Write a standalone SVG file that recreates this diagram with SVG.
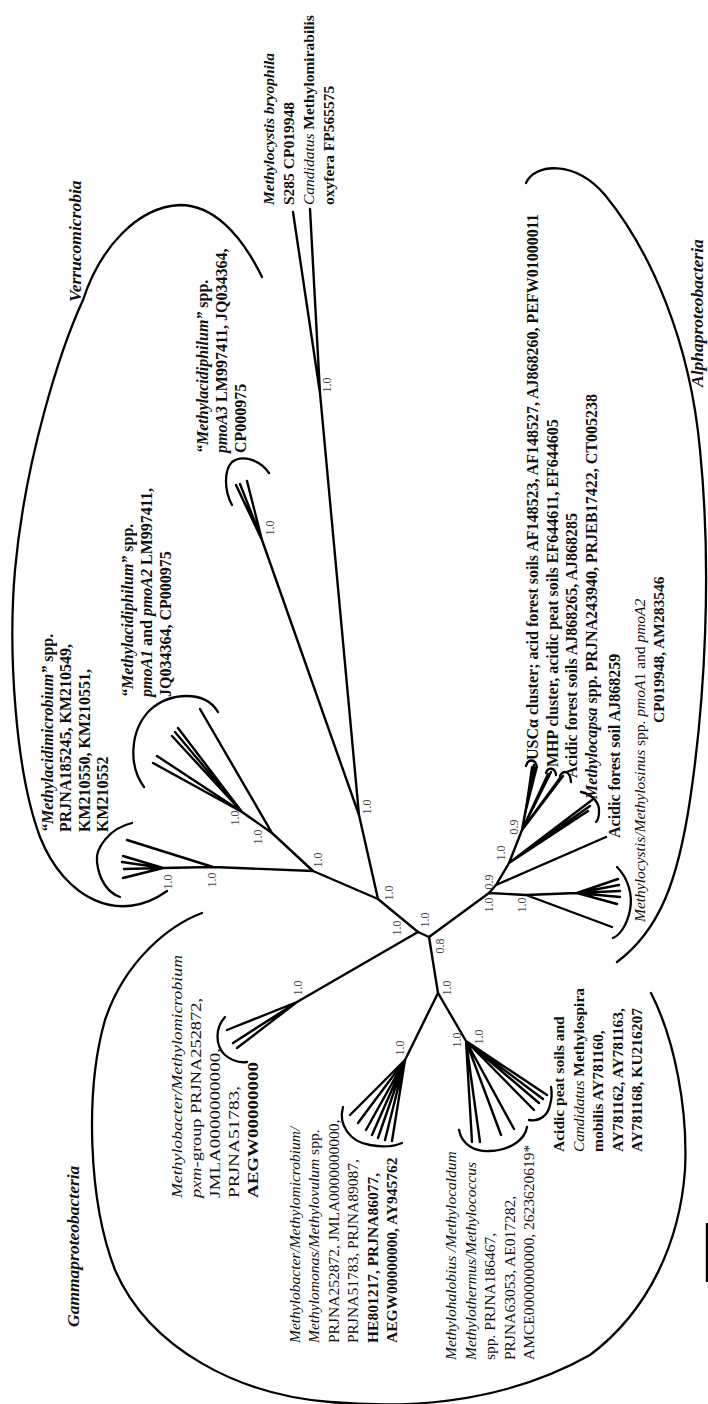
<svg xmlns="http://www.w3.org/2000/svg" width="708" height="1404" viewBox="0 0 708 1404">
<style>
text{font-family:"Liberation Serif","Times New Roman",serif;font-size:15.5px;fill:#111}
.big{font-size:16px}
.b{font-weight:bold}
.i{font-style:italic}
.bi{font-weight:bold;font-style:italic}
.bs{font-size:12px;fill:#444;text-anchor:middle}
.clade{font-size:17.5px;font-weight:bold;font-style:italic}
.edge{fill:none;stroke:#000;stroke-width:2.4;stroke-linecap:round;stroke-linejoin:round}
.arc{fill:none;stroke:#000;stroke-width:2.3;stroke-linecap:round}
</style>
<rect width="708" height="1404" fill="#fff"/>

<g id="connectors">
<path class="edge" d="M418,932 L378,899 L359,815 L320,393 L293,212 M320,393 L310,209 M359,815 L262,540 L236,485 M262,540 L240,484 M262,540 L247,481"/>
<path class="edge" d="M378,899 L313,871 L272,833 L200,709 M272,833 L242,812 L178,728 M242,812 L175,732 M242,812 L172,736 M242,812 L157,756 M242,812 L153,763"/>
<path class="edge" d="M313,871 L213,867 L127,840 M213,867 L163,868 L123,856 M163,868 L122,862 M163,868 L124,869 M163,868 L123,878"/>
<path class="edge" d="M418,932 L297,1002 L227,1030 M297,1002 L233,1043 M297,1002 L237,1048"/>
<path class="edge" d="M418,932 L429,937 L438,993 L405,1060 L350,1115 M405,1060 L358,1123 M405,1060 L366,1130 M405,1060 L372,1135 M405,1060 L378,1138 M405,1060 L385,1140 M405,1060 L392,1141"/>
<path class="edge" d="M438,993 L466,1041 L472,1142 M466,1041 L480,1142 M466,1041 L501,1135 M466,1041 L514,1129 M466,1041 L534,1110 M466,1041 L539,1103 M466,1041 L543,1099 M466,1041 L547,1095"/>
<path class="edge" d="M429,937 L489,893 L526,895 L577,893 L618,879 M577,893 L619,885 M577,893 L620,891 M577,893 L620,897 M577,893 L617,904 M526,895 L612,927"/>
<path class="edge" d="M489,893 L496,885 L606,837 M496,885 L509,863 L592,800 M509,863 L590,806 M509,863 L588,811 M509,863 L522,830 L534,765 M522,830 L551,772 M522,830 L548,774 M522,830 L563,776 M522,830 L560,778"/>
<polygon points="522,830 531,766 538,767" fill="#000"/>
<line x1="707" y1="1223" x2="707" y2="1282" stroke="#000" stroke-width="2.4"/>
</g>

<g id="clade-outlines">
<path class="arc" d="M262,277 C240,232 212,205 180,205 C137,207 100,248 83,300 C60,350 25,460 15,570 C8,650 15,770 40,837 C65,900 120,925 167,891"/>
<path class="arc" d="M202,913 C170,925 125,960 105,1020 C85,1090 88,1200 115,1270 C150,1350 240,1395 330,1402 C420,1410 510,1400 590,1355 C650,1310 680,1240 685,1170 C688,1110 675,1040 651,993"/>
<path class="arc" d="M526,183 C535,163 575,160 605,195 C650,250 690,340 700,450 C712,570 705,700 690,800 C678,880 660,930 617,962"/>
</g>

<g id="group-brackets">
<path class="arc" d="M232,505 C224,490 224,470 232,462 C242,454 260,460 269,473"/>
<path class="arc" d="M144,787 C128,765 130,730 150,710 C170,692 205,690 218,712"/>
<path class="arc" d="M132,823 C110,828 95,848 97,862 C99,880 108,893 120,897"/>
<path class="arc" d="M225,1017 C215,1028 215,1045 225,1055 C232,1061 240,1063 247,1062"/>
<path class="arc" d="M343,1107 C338,1125 350,1142 370,1145 C385,1148 395,1146 402,1143"/>
<path class="arc" d="M459,1130 C462,1145 475,1152 490,1151 C510,1150 525,1140 527,1127"/>
<path class="arc" d="M529,1120 C540,1122 548,1115 550,1105 C552,1098 552,1092 551,1087"/>
<path class="arc" d="M617,867 C628,878 633,895 630,910 C627,925 620,935 613,938"/>
<path class="arc" d="M526,766 C528,759 535,758 537,767"/>
<path class="arc" d="M546,773 C548,767 555,767 556,775"/>
<path class="arc" d="M560,776 C563,770 570,770 571,782"/>
<path class="arc" d="M581,792 C592,794 600,803 599,812 C599,817 598,820 596,822"/>
</g>

<g id="bootstrap">
<text class="bs" transform="translate(331,385) rotate(-90)">1.0</text>
<text class="bs" transform="translate(274,528) rotate(-90)">1.0</text>
<text class="bs" transform="translate(371,807) rotate(-90)">1.0</text>
<text class="bs" transform="translate(393,893) rotate(-90)">1.0</text>
<text class="bs" transform="translate(322,860) rotate(-90)">1.0</text>
<text class="bs" transform="translate(262,837) rotate(-90)">1.0</text>
<text class="bs" transform="translate(239,818) rotate(-90)">1.0</text>
<text class="bs" transform="translate(216,880) rotate(-90)">1.0</text>
<text class="bs" transform="translate(172,882) rotate(-90)">1.0</text>
<text class="bs" transform="translate(429,920) rotate(-90)">1.0</text>
<text class="bs" transform="translate(401,928) rotate(-90)">1.0</text>
<text class="bs" transform="translate(444,946) rotate(-90)">0.8</text>
<text class="bs" transform="translate(451,988) rotate(-90)">1.0</text>
<text class="bs" transform="translate(302,988) rotate(-90)">1.0</text>
<text class="bs" transform="translate(404,1048) rotate(-90)">1.0</text>
<text class="bs" transform="translate(461,1040) rotate(-90)">1.0</text>
<text class="bs" transform="translate(483,1037) rotate(-90)">1.0</text>
<text class="bs" transform="translate(493,905) rotate(-90)">1.0</text>
<text class="bs" transform="translate(493,882) rotate(-90)">0.9</text>
<text class="bs" transform="translate(526,905) rotate(-90)">1.0</text>
<text class="bs" transform="translate(505,853) rotate(-90)">1.0</text>
<text class="bs" transform="translate(518,827) rotate(-90)">0.9</text>
</g>

<g id="clade-verrucomicrobia"><text class="clade" transform="translate(81,302) rotate(-90)">Verrucomicrobia</text></g>
<g id="clade-gammaproteobacteria"><text class="clade" transform="translate(79,1327) rotate(-90)">Gammaproteobacteria</text></g>
<g id="clade-alphaproteobacteria"><text class="clade" transform="translate(703,387) rotate(-90)">Alphaproteobacteria</text></g>

<g id="node-outgroup">
<text transform="translate(274,205) rotate(-90)"><tspan class="bi">Methylocystis bryophila</tspan><tspan x="0" dy="20" class="b">S285 CP019948</tspan><tspan x="0" dy="20" class="i">Candidatus</tspan><tspan class="b"> Methylomirabilis</tspan><tspan x="0" dy="20" class="b">oxyfera FP565575</tspan></text>
</g>

<g id="node-methylacidiphilum-pmoA3">
<text class="b big" transform="translate(208,453) rotate(-90)"><tspan class="bi">“Methylacidiphilum”</tspan> spp.<tspan x="0" dy="19" class="bi">pmoA3</tspan> LM997411, JQ034364,<tspan x="0" dy="19">CP000975</tspan></text>
</g>

<g id="node-methylacidiphilum-pmoA12">
<text class="b big" transform="translate(133,697) rotate(-90)"><tspan class="bi">“Methylacidiphilum”</tspan> spp.<tspan x="0" dy="19" class="bi">pmoA1</tspan> and <tspan class="bi">pmoA2</tspan> LM997411,<tspan x="0" dy="19">JQ034364, CP000975</tspan></text>
</g>

<g id="node-methylacidimicrobium">
<text class="b big" transform="translate(53,832) rotate(-90)"><tspan class="bi">“Methylacidimicrobium”</tspan> spp.<tspan x="0" dy="18.4">PRJNA185245, KM210549,</tspan><tspan x="0" dy="18.4">KM210550, KM210551,</tspan><tspan x="0" dy="18.4">KM210552</tspan></text>
</g>

<g id="node-methylobacter-pxm">
<text transform="translate(182,1198) rotate(-90)"><tspan class="i" textLength="243" lengthAdjust="spacingAndGlyphs">Methylobacter/Methylomicrobium</tspan><tspan x="0" dy="19" textLength="200" lengthAdjust="spacingAndGlyphs"><tspan class="i">pxm</tspan>-group PRJNA252872,</tspan><tspan x="0" dy="19" textLength="150" lengthAdjust="spacingAndGlyphs">JMLA0000000000,</tspan><tspan x="0" dy="19" textLength="112" lengthAdjust="spacingAndGlyphs">PRJNA51783,</tspan><tspan x="0" dy="19" class="b" textLength="136" lengthAdjust="spacingAndGlyphs">AEGW00000000</tspan></text>
</g>

<g id="node-methylobacter-group">
<text transform="translate(300,1343) rotate(-90)"><tspan class="i">Methylobacter/Methylomicrobium/</tspan><tspan x="0" dy="19.4" class="i">Methylomonas/Methylovulum</tspan> spp.<tspan x="0" dy="19.4">PRJNA252872, JMLA0000000000,</tspan><tspan x="0" dy="19.4">PRJNA51783, PRJNA89087,</tspan><tspan x="0" dy="19.4" class="b">HE801217, PRJNA86077,</tspan><tspan x="0" dy="19.4" class="b">AEGW00000000, AY945762</tspan></text>
</g>

<g id="node-methylohalobius">
<text transform="translate(456,1360) rotate(-90)"><tspan class="i">Methylohalobius /Methylocaldum</tspan><tspan x="0" dy="19.5" class="i">Methylothermus/Methylococcus</tspan><tspan x="0" dy="19.5">spp. PRJNA186467,</tspan><tspan x="0" dy="19.5">PRJNA63053, AE017282,</tspan><tspan x="0" dy="19.5">AMCE0000000000, 2623620619*</tspan></text>
</g>

<g id="node-methylospira">
<text class="b" transform="translate(564,1152) rotate(-90)">Acidic peat soils and<tspan x="0" dy="19.5" class="i" style="font-weight:normal">Candidatus</tspan> Methylospira<tspan x="0" dy="19.5">mobilis AY781160,</tspan><tspan x="0" dy="19.5">AY781162, AY781163,</tspan><tspan x="0" dy="19.5">AY781168, KU216207</tspan></text>
</g>

<g id="node-usc-alpha"><text class="b big" transform="translate(538,760) rotate(-90)">USCα cluster; acid forest soils AF148523, AF148527, AJ868260, PEFW01000011</text></g>
<g id="node-mhp"><text class="b big" transform="translate(558,767) rotate(-90)">MHP cluster, acidic peat soils EF644611, EF644605</text></g>
<g id="node-acidic-forest-soils"><text class="b big" transform="translate(577,778) rotate(-90)">Acidic forest soils AJ868265, AJ868285</text></g>
<g id="node-methylocapsa"><text class="b big" transform="translate(597,799) rotate(-90)"><tspan class="bi">Methylocapsa</tspan> spp. PRJNA243940, PRJEB17422, CT005238</text></g>
<g id="node-acidic-forest-soil"><text class="b big" transform="translate(620,838) rotate(-90)">Acidic forest soil AJ868259</text></g>
<g id="node-methylocystis">
<text transform="translate(645,922) rotate(-90)"><tspan class="i">Methylocystis/Methylosinus</tspan> spp. <tspan class="i">pmoA</tspan>1 and <tspan class="i">pmoA2</tspan></text>
<text class="b" transform="translate(664,723) rotate(-90)">CP019948, AM283546</text>
</g>
</svg>
